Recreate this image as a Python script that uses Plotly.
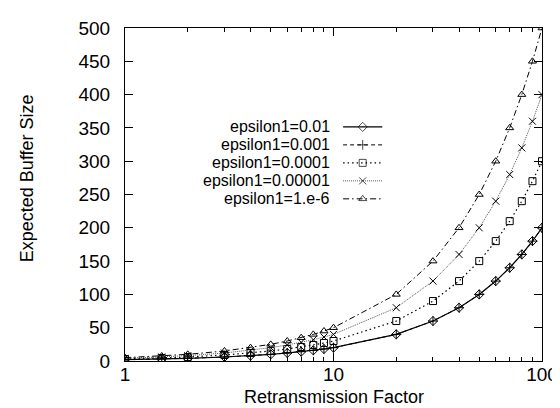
import plotly.graph_objects as go

factor = [1, 1.5, 2, 3, 4, 5, 6, 7, 8, 9, 10, 20, 30, 40, 50, 60, 70, 80, 90, 100]
eps_1e2 = [2, 3, 4, 6, 8, 10, 12, 14, 16, 18, 20, 40, 60, 80, 100, 120, 140, 160, 180, 200]
eps_1e3 = [2, 3, 4, 6, 8, 10, 12, 14, 16, 18, 20, 40, 60, 80, 100, 120, 140, 160, 180, 200]
eps_1e4 = [3, 4.5, 6, 9, 12, 15, 18, 21, 24, 27, 30, 60, 90, 120, 150, 180, 210, 240, 270, 300]
eps_1e5 = [4, 6, 8, 12, 16, 20, 24, 28, 32, 36, 40, 80, 120, 160, 200, 240, 280, 320, 360, 400]
eps_1e6 = [5, 7.5, 10, 15, 20, 25, 30, 35, 40, 45, 50, 100, 150, 200, 250, 300, 350, 400, 450, 500]

names = ["epsilon1=0.01", "epsilon1=0.001", "epsilon1=0.0001", "epsilon1=0.00001", "epsilon1=1.e-6"]
series = [eps_1e2, eps_1e3, eps_1e4, eps_1e5, eps_1e6]
styles = [
    dict(dash="solid", color="black", width=1.2, symbol="diamond-open"),
    dict(dash="4px,3px", color="black", width=1, symbol="cross-thin-open"),
    dict(dash="1.5px,3px", color="black", width=1.2, symbol="square-open"),
    dict(dash="1px,1px", color="#555555", width=1, symbol="x-thin-open"),
    dict(dash="6px,3px,1.5px,3px", color="black", width=1, symbol="triangle-up-open"),
]

FONT = "Liberation Sans, Arial, sans-serif"
fig = go.Figure()
for name, vals, st in zip(names, series, styles):
    fig.add_trace(go.Scatter(
        x=factor, y=vals, mode="lines+markers", name=name, showlegend=False,
        line=dict(color=st["color"], dash=st["dash"], width=st["width"]),
        marker=dict(symbol=st["symbol"], size=7, color="black",
                    line=dict(color="black", width=1)),
    ))

# custom legend (text left of sample) on overlay axes in [0,1]
leg_y = [0.703, 0.649, 0.595, 0.541, 0.487]
x0, x1 = 0.523, 0.617
for name, st, yy in zip(names, styles, leg_y):
    fig.add_trace(go.Scatter(
        x=[x0, (x0 + x1) / 2, x1], y=[yy, yy, yy], mode="lines+markers",
        xaxis="x2", yaxis="y2", showlegend=False, hoverinfo="skip",
        line=dict(color=st["color"], dash=st["dash"], width=st["width"]),
        marker=dict(symbol=st["symbol"], size=[0, 7, 0], color="black",
                    line=dict(color="black", width=1)),
    ))
    fig.add_annotation(x=0.493, y=yy, xref="paper", yref="paper", text=name,
                       showarrow=False, xanchor="right", yanchor="middle",
                       borderpad=0, font=dict(family=FONT, size=16, color="black"))

fig.add_annotation(x=0.5, y=-0.074, xref="paper", yref="paper", text="Retransmission Factor",
                   showarrow=False, xanchor="center", yanchor="top", borderpad=0,
                   font=dict(family=FONT, size=18, color="black"))
fig.add_annotation(x=(17 - 117) / 427, y=0.55, xref="paper", yref="paper",
                   text="Expected Buffer Size",
                   showarrow=False, xanchor="center", yanchor="middle", textangle=-90,
                   borderpad=0, font=dict(family=FONT, size=18, color="black"))

fig.update_layout(
    width=560, height=408,
    margin=dict(l=117, r=16, t=10, b=55),
    paper_bgcolor="white", plot_bgcolor="white",
    font=dict(family=FONT, size=19, color="black"),
    showlegend=False,
    xaxis=dict(
        type="log", range=[0, 2], tickvals=[1, 10, 100], ticktext=["1", "10", "100"],
        ticks="inside", ticklen=8, tickcolor="black", mirror="allticks",
        showline=True, linecolor="black", linewidth=1, showgrid=False, zeroline=False,
        minor=dict(tickvals=[2, 3, 4, 5, 6, 7, 8, 9, 20, 30, 40, 50, 60, 70, 80, 90],
                   ticks="inside", ticklen=4, tickcolor="black", showgrid=False),
        ticklabelstandoff=-4,
    ),
    yaxis=dict(
        range=[0, 500], dtick=50, ticks="inside", ticklen=8, tickcolor="black",
        mirror="allticks", showline=True, linecolor="black", linewidth=1,
        showgrid=False, zeroline=False,
        ticklabelstandoff=10,
    ),
    xaxis2=dict(overlaying="x", range=[0, 1], visible=False),
    yaxis2=dict(overlaying="y", range=[0, 1], visible=False),
)

fig.write_html("out.html")
